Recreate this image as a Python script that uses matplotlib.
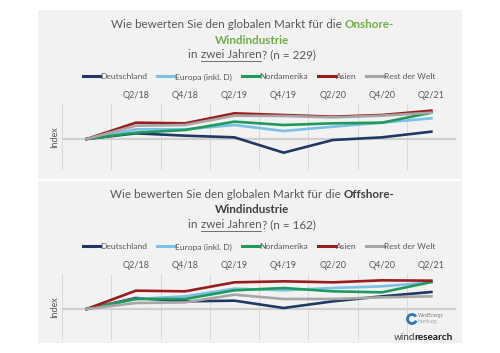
import matplotlib
matplotlib.use("Agg")
import matplotlib.pyplot as plt
from matplotlib.patches import Rectangle, Arc
from matplotlib.lines import Line2D

plt.rcParams['font.family'] = ['Lato', 'DejaVu Sans']

categories = ['', 'Q2/18', 'Q4/18', 'Q2/19', 'Q4/19', 'Q2/20', 'Q4/20', 'Q2/21']
series_names = ['Deutschland', 'Europa (inkl. D)', 'Nordamerika', 'Asien', 'Rest der Welt']
colors = ['#1f3864', '#7cc0e6', '#1e9a5a', '#9b1c1c', '#a6a6a6']

onshore_deutschland = [0, 17, 10, 5, -41, -3, 5, 22]
onshore_europa = [0, 29, 29, 42, 24, 37, 49, 62]
onshore_nordamerika = [0, 19, 27, 52, 42, 47, 49, 79]
onshore_asien = [0, 49, 47, 77, 72, 67, 72, 85]
onshore_rest = [0, 40, 42, 70, 69, 65, 70, 79]

offshore_deutschland = [0, 33, 23, 25, 3, 23, 38, 51]
offshore_europa = [0, 30, 38, 61, 56, 63, 68, 80]
offshore_nordamerika = [0, 30, 30, 56, 63, 53, 50, 81]
offshore_asien = [0, 55, 53, 80, 83, 80, 86, 85]
offshore_rest = [0, 18, 20, 43, 30, 30, 35, 38]

onshore = [onshore_deutschland, onshore_europa, onshore_nordamerika, onshore_asien, onshore_rest]
offshore = [offshore_deutschland, offshore_europa, offshore_nordamerika, offshore_asien, offshore_rest]

W, H = 500, 353
fig = plt.figure(figsize=(5, 3.53), dpi=100)
fig.patch.set_facecolor('white')

def fx(px):
    return px / W

def fy(py):
    return 1 - py / H

# panel backgrounds
fig.patches.append(Rectangle((fx(38), fy(179)), fx(462) - fx(38), fy(10) - fy(179),
                             transform=fig.transFigure, facecolor='#f2f2f2', edgecolor='none', zorder=-2))
fig.patches.append(Rectangle((fx(38), fy(343)), fx(462) - fx(38), fy(181) - fy(343),
                             transform=fig.transFigure, facecolor='#f2f2f2', edgecolor='none', zorder=-2))

renderer = fig.canvas.get_renderer()
GRAY = '#595959'

def text_runs(runs, xc, y, size, gap=0.0):
    objs = []
    widths = []
    for t, c, w, u in runs:
        o = fig.text(0, fy(y), t, color=c, fontweight=w, fontsize=size, va='center', ha='left')
        bb = o.get_window_extent(renderer)
        objs.append(o)
        widths.append(bb.width)
    total = sum(widths) + gap * (len(runs) - 1)
    x = xc - total / 2
    for o, wdt, (t, c, w, u) in zip(objs, widths, runs):
        o.set_x(fx(x))
        if u:
            fig.lines.append(Line2D([fx(x + 0.5), fx(x + wdt - 0.5)], [fy(y + 5.5), fy(y + 5.5)],
                                    transform=fig.transFigure, color=c, lw=0.6))
        x += wdt + gap

def draw_panel(ytop, data, title_word, title_color, n):
    tsize = 8.4
    text_runs([('Wie bewerten Sie den globalen Markt für die ', GRAY, 'normal', False),
               (title_word + '-', title_color, 'bold', False)], 252, ytop + 15, tsize)
    text_runs([('Windindustrie', title_color, 'bold', False)], 252, ytop + 30, tsize)
    text_runs([('in ', GRAY, 'normal', False), ('zwei Jahren', GRAY, 'normal', True),
               ('? (n = %d)' % n, GRAY, 'normal', False)], 252, ytop + 45, tsize)

    ax_top = ytop + 94
    ax_bot = ytop + 160
    ax = fig.add_axes([fx(62), fy(ax_bot), fx(456) - fx(62), fy(ax_top) - fy(ax_bot)])
    ax.set_facecolor('none')
    x = list(range(len(categories)))
    for vals, name, c in zip(data, series_names, colors):
        ax.plot(x, vals, color=c, lw=1.9, label=name, solid_joinstyle='miter', zorder=3)
    ax.set_xlim(-0.5, len(categories) - 0.5)
    ax.set_ylim(-93, 105)
    for b in range(len(categories) + 1):
        ax.axvline(b - 0.5, color='#d9d9d9', lw=0.7, zorder=1)
    ax.axhline(0, color='#d0d0d0', lw=1.6, zorder=2)
    for s in ax.spines.values():
        s.set_visible(False)
    ax.xaxis.tick_top()
    ax.set_xticks(x)
    ax.set_xticklabels(categories, fontsize=6.5, color=GRAY)
    ax.tick_params(axis='x', length=0, pad=3)
    ax.set_yticks([])
    ax.set_ylabel('Index', fontsize=6.5, color=GRAY, labelpad=2)
    leg = ax.legend(loc='center', bbox_to_anchor=(0.5, (fy(ytop + 67) - fy(ax_bot)) / (fy(ax_top) - fy(ax_bot))),
                    ncol=5, frameon=False, fontsize=6.1, handlelength=2.1, handletextpad=0.0,
                    columnspacing=1.15, labelcolor=GRAY)
    for h in leg.get_lines():
        h.set_linewidth(2.2)
    return ax

draw_panel(10, onshore, 'Onshore', '#70ad47', 229)
draw_panel(180, offshore, 'Offshore', '#404040', 162)

# logo
fig.patches.append(Arc((fx(412), fy(319)), 0.018, 0.018 * W / H, theta1=40, theta2=330,
                       transform=fig.transFigure, color='#2e75b6', lw=2.0))
fig.text(fx(418), fy(316), 'WindEnergy', fontsize=3.4, color='#7f7f7f', va='center', ha='left')
fig.text(fx(418), fy(321), 'Hamburg', fontsize=3.4, color='#a6a6a6', va='center', ha='left')
text_runs([('wind', '#404040', 'normal', False), ('research', '#1a1a1a', 'bold', False)], 423, 337, 7.2, gap=-0.5)

fig.savefig('out.png', dpi=100, facecolor='white')
